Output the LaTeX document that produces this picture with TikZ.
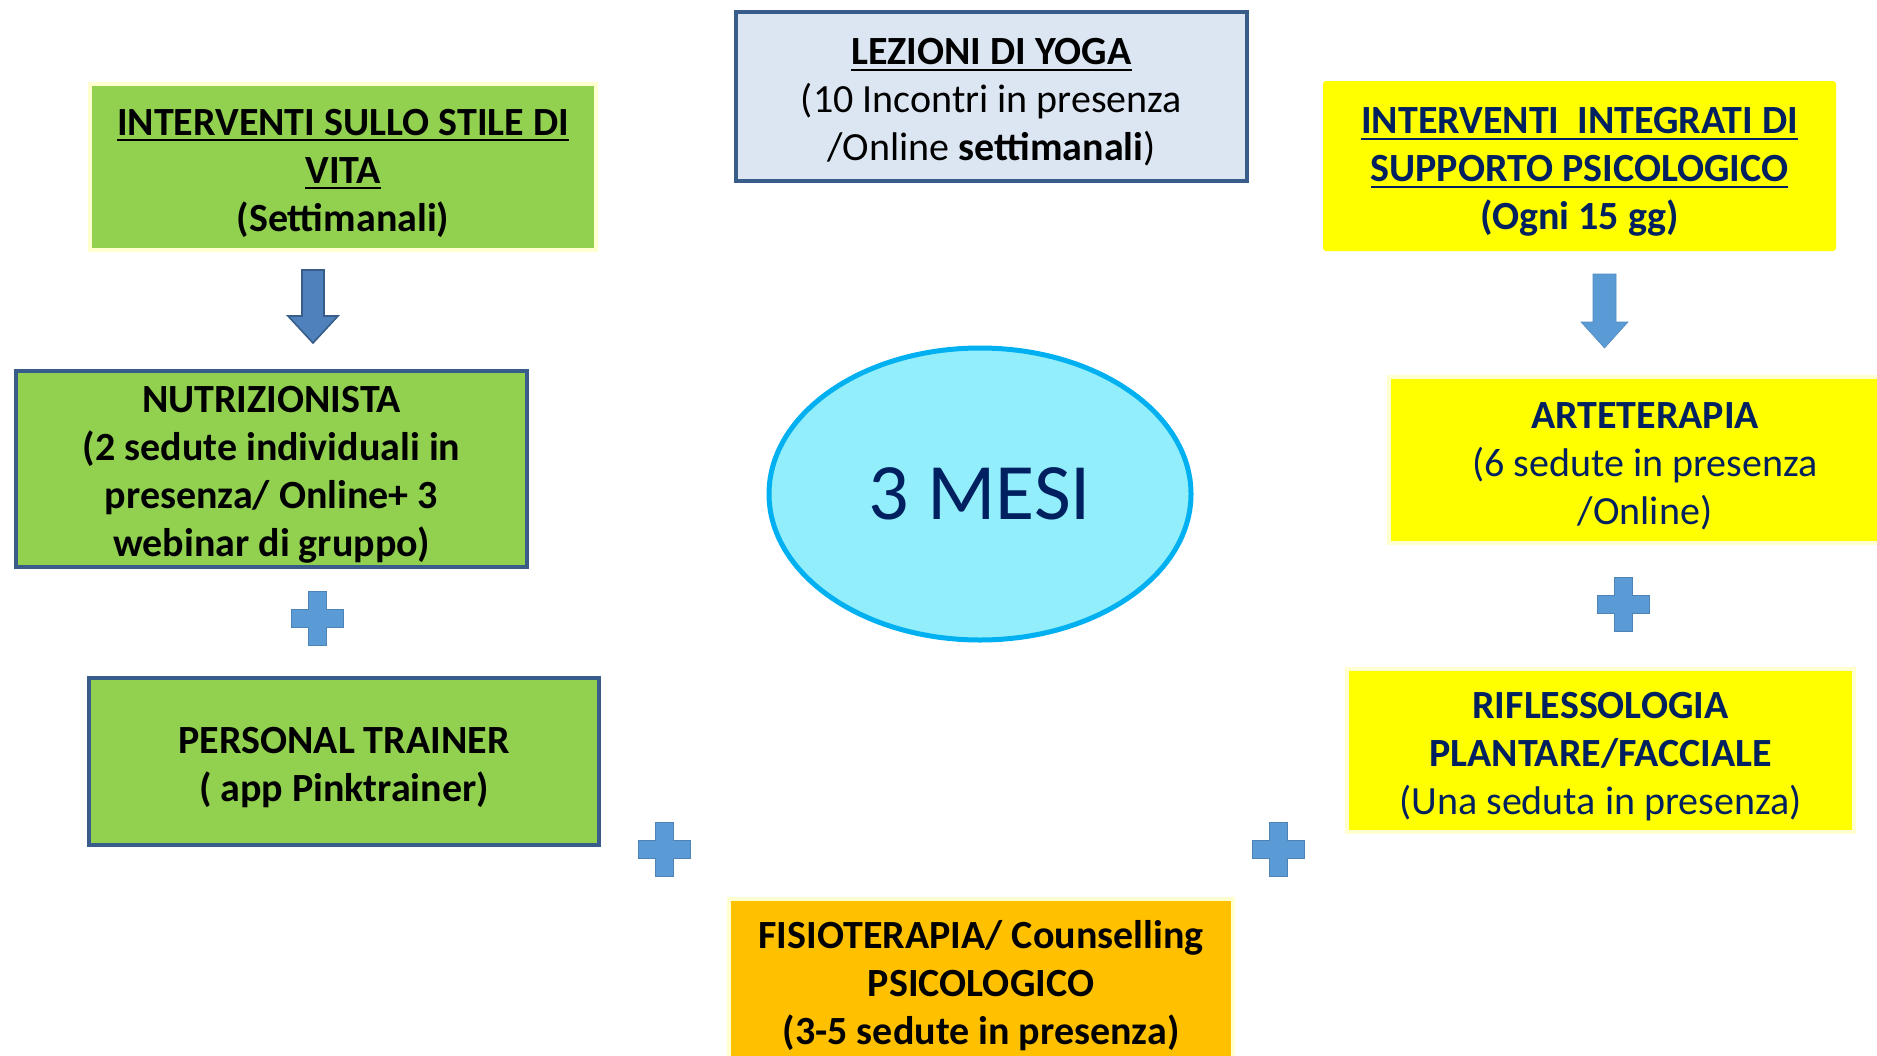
\documentclass[tikz,border=0pt]{standalone}
\usepackage{fontspec}
\setmainfont{Carlito}
\usetikzlibrary{shapes.geometric}
\definecolor{boxgreen}{HTML}{92D050}
\definecolor{yogafill}{HTML}{DCE6F2}
\definecolor{boxblue}{HTML}{385D8A}
\definecolor{boxyellow}{HTML}{FFFF00}
\definecolor{boxorange}{HTML}{FFC000}
\definecolor{navy}{HTML}{002060}
\definecolor{glow}{HTML}{FFFFD0}
\definecolor{cyanfill}{HTML}{93EEFB}
\definecolor{cyanline}{HTML}{00B0F0}
\definecolor{arrowdark}{HTML}{4F81BD}
\definecolor{plusblue}{HTML}{5B9BD5}
\newcommand\myul[1]{\setbox0\hbox{#1}\rlap{\rule[-3.2pt]{\wd0}{1.1pt}}\box0}
\tikzset{
  x=0.5pt,y=-0.5pt,
  basebox/.style={rectangle,inner sep=0pt},
  boxtext/.style={inner sep=0pt,align=center,font=\fontsize{20}{24}\selectfont,yshift=-3pt},
  darktext/.style={boxtext,text=black},
  navytext/.style={boxtext,text=navy},
  greenglow/.style={basebox,fill=boxgreen,draw=glow,line width=2pt},
  greenblue/.style={basebox,fill=boxgreen,draw=boxblue,line width=2pt},
  yogabox/.style={basebox,fill=yogafill,draw=boxblue,line width=2pt},
  yellowplain/.style={basebox,fill=boxyellow,rounded corners=1.5pt},
  yellowglow/.style={basebox,fill=boxyellow,draw=glow,line width=2pt},
  orangeglow/.style={basebox,fill=boxorange,draw=glow,line width=2pt},
  plussign/.pic={
    \fill[plusblue,draw=plusblue!85!black,line width=0.4pt]
      (-26,-9) -- (-9,-9) -- (-9,-27) -- (9,-27) -- (9,-9) -- (26,-9) -- (26,9)
      -- (9,9) -- (9,27) -- (-9,27) -- (-9,9) -- (-26,9) -- cycle;
  }
}
\begin{document}
\begin{tikzpicture}
\useasboundingbox (0,0) rectangle (1877,1055);
\clip (0,0) rectangle (1877,1055);

% boxes
\node[greenglow,minimum width=253pt,minimum height=83pt] (stile) at (343,167) {};
\node[darktext] (stile-t) at (stile.center)
  {\bfseries\myul{INTERVENTI SULLO STILE DI}\\\bfseries\myul{VITA}\\\bfseries(Settimanali)};

\node[yogabox,minimum width=255.5pt,minimum height=84.5pt] (yoga) at (991.5,96.5) {};
\node[darktext] (yoga-t) at (yoga.center)
  {\bfseries\myul{LEZIONI DI YOGA}\\(10 Incontri in presenza\\/Online \textbf{settimanali})};

\node[yellowplain,minimum width=256.5pt,minimum height=85pt] (integrati) at (1579.5,166) {};
\node[navytext] (integrati-t) at (integrati.center)
  {\bfseries\myul{INTERVENTI\ \ INTEGRATI DI}\\\bfseries\myul{SUPPORTO PSICOLOGICO}\\\bfseries(Ogni 15 gg)};

\node[greenblue,minimum width=255.5pt,minimum height=98pt] (nutri) at (271.5,469) {};
\node[darktext] (nutri-t) at (nutri.center)
  {\bfseries NUTRIZIONISTA\\\bfseries(2 sedute individuali in\\\bfseries presenza/ Online+ 3\\\bfseries webinar di gruppo)};

\node[greenblue,minimum width=255pt,minimum height=83.5pt] (trainer) at (344,761.5) {};
\node[darktext] (trainer-t) at (trainer.center)
  {\bfseries PERSONAL TRAINER\\\bfseries( app Pinktrainer)};

\node[yellowglow,minimum width=256pt,minimum height=83pt] (arte) at (1645,460) {};
\node[navytext] (arte-t) at (arte.center)
  {\bfseries ARTETERAPIA\\(6 sedute in presenza\\/Online)};

\node[yellowglow,minimum width=253.5pt,minimum height=81.5pt] (rifl) at (1600.5,750.5) {};
\node[navytext] (rifl-t) at (rifl.center)
  {\bfseries RIFLESSOLOGIA\\\bfseries PLANTARE/FACCIALE\\(Una seduta in presenza)};

\node[orangeglow,minimum width=252pt,minimum height=83pt] (fisio) at (981,982) {};
\node[darktext,yshift=1pt] (fisio-t) at (fisio.center)
  {\bfseries FISIOTERAPIA/ Counselling\\\bfseries PSICOLOGICO\\\bfseries(3-5 sedute in presenza)};

% central ellipse
\node[ellipse,fill=cyanfill,draw=cyanline,line width=2.5pt,minimum width=211pt,minimum height=146pt,
      inner sep=0pt,text=navy,font=\fontsize{40}{48}\selectfont] (mesi) at (980,494) {3 MESI};

% block arrows
\fill[arrowdark,draw=boxblue,line width=0.8pt,line join=miter]
  (302,270) -- (324,270) -- (324,316) -- (338,316) -- (313,343) -- (288,316) -- (302,316) -- cycle;
\fill[plusblue,draw=plusblue!90!black,line width=0.3pt]
  (1593,274) -- (1616,274) -- (1616,322) -- (1628,322) -- (1604.5,348) -- (1581,322) -- (1593,322) -- cycle;

% plus signs
\pic at (317,618) {plussign};
\pic at (1623,604) {plussign};
\pic at (664,849) {plussign};
\pic at (1278,849) {plussign};
\end{tikzpicture}
\end{document}
